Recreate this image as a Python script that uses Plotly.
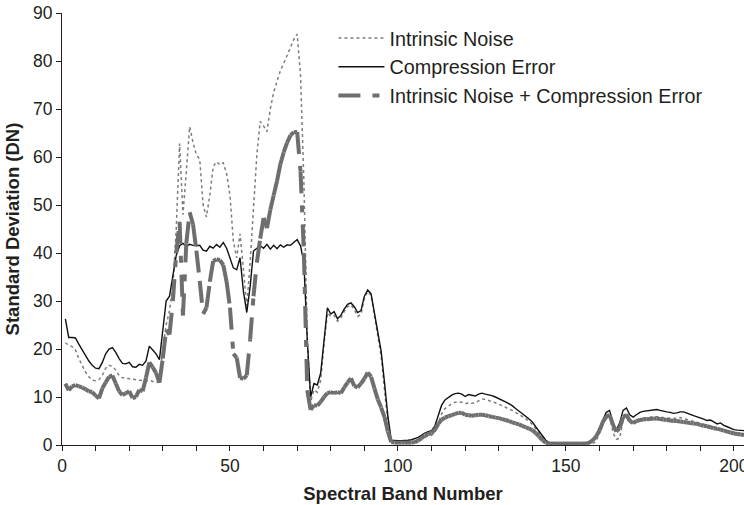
import plotly.graph_objects as go

# ---- data ----
intrinsic_noise = [
    21.3, 20.8, 20.5, 19.8, 18.0, 16.5, 15.2, 14.2, 13.5, 13.4,
    13.6, 14.5, 16.0, 16.6, 16.4, 15.6, 14.5, 14.0, 14.0, 13.8,
    13.7, 13.5, 13.5, 13.3, 13.3, 13.5, 13.3, 13.0, 13.2, 20.0,
    25.0, 28.0, 33.0, 45.0, 62.8, 48.0, 57.0, 66.3, 63.0, 60.5,
    59.5, 50.0, 47.5, 52.0, 58.0, 59.0, 58.4, 58.8, 56.5, 52.0,
    42.5, 39.0, 44.0, 36.5, 29.0, 38.0, 50.0, 60.5, 67.4, 66.5,
    65.3, 70.0, 73.5, 76.0, 78.0, 79.5, 81.2, 83.0, 84.5, 85.6,
    77.0, 55.0, 22.0, 9.0, 11.5, 11.0, 13.5, 21.0, 27.5, 26.8,
    27.0, 25.8, 26.5, 27.8, 28.8, 29.2, 28.2, 26.8, 27.2, 30.5,
    32.0, 31.2, 27.0, 23.0, 18.5, 11.5, 4.5, 0.7, 0.6, 0.6,
    0.6, 0.6, 0.6, 0.6, 0.7, 0.9, 1.2, 1.6, 1.9, 2.0,
    2.6, 4.5, 6.5, 7.6, 8.2, 8.6, 8.9, 9.0, 8.9, 8.6,
    8.8, 8.7, 8.8, 9.2, 9.6, 9.5, 9.3, 9.1, 8.8, 8.5,
    8.2, 7.9, 7.6, 7.2, 6.8, 6.4, 6.0, 5.5, 4.9, 4.3,
    3.4, 2.4, 1.5, 0.8, 0.4, 0.3, 0.3, 0.3, 0.3, 0.3,
    0.3, 0.3, 0.3, 0.3, 0.3, 0.3, 0.3, 0.3, 0.8, 2.5,
    4.8, 5.8, 6.3, 2.5, 1.2, 1.4, 5.2, 6.6, 4.8, 4.6,
    5.1, 5.4, 5.6, 5.7, 5.8, 5.9, 5.9, 5.8, 5.7, 5.7,
    5.6, 5.5, 5.6, 5.7, 5.5, 5.3, 5.1, 4.9, 4.7, 4.6,
    4.4, 4.1, 4.0, 3.7, 3.5, 3.4, 3.1, 2.9, 2.7, 2.6,
    2.5, 2.4, 2.4,
]

compression_error = [
    26.3, 22.4, 22.4, 22.3, 21.0, 19.8, 18.6, 17.5, 16.6, 16.0,
    15.9, 17.2, 19.0, 20.0, 20.3, 19.3, 18.0, 17.0, 16.9, 17.2,
    16.3, 16.2, 16.8, 16.6, 17.5, 20.6, 19.8, 19.0, 17.8, 24.5,
    30.0, 31.0, 35.0, 39.5, 41.5, 42.0, 41.4, 41.8, 41.6, 41.5,
    41.6, 40.6, 40.4, 41.4, 41.0, 41.8, 41.2, 42.2, 41.0, 39.0,
    36.9, 36.5, 39.0, 32.0, 27.6, 33.0, 40.4, 41.0, 41.5, 41.0,
    41.8, 40.8, 41.6, 40.9, 41.7, 41.2, 41.7, 41.6, 42.2, 42.8,
    41.5, 38.0, 22.0, 10.0, 12.8, 12.5, 15.0, 22.0, 28.6, 27.3,
    27.8, 26.3, 27.0, 28.3, 29.3, 29.6, 28.8, 27.6, 28.0, 31.0,
    32.3, 31.5, 27.5, 23.5, 19.5, 13.0, 6.0, 1.0, 0.9, 0.9,
    0.9, 0.9, 1.0, 1.1, 1.3, 1.6, 2.0, 2.5, 2.8, 3.0,
    4.0, 6.2, 8.3, 9.4, 10.0, 10.4, 10.7, 10.8, 10.6, 10.1,
    10.5, 10.3, 10.2, 10.6, 10.8, 10.6, 10.5, 10.3, 10.0, 9.7,
    9.3, 9.0, 8.6, 8.2, 7.6, 7.1, 6.6, 6.0, 5.4, 4.8,
    3.8, 2.8, 1.8, 1.0, 0.5, 0.4, 0.3, 0.3, 0.3, 0.3,
    0.3, 0.3, 0.3, 0.3, 0.3, 0.3, 0.5, 1.0, 2.0, 3.7,
    5.5, 6.8, 7.2, 4.5, 3.1, 4.6, 7.2, 7.7, 6.3, 5.8,
    6.3, 6.8, 7.0, 7.1, 7.2, 7.2, 7.4, 7.2, 7.0, 6.9,
    6.8, 6.6, 6.7, 6.9, 6.9, 6.7, 6.4, 6.1, 5.9, 5.6,
    5.4, 5.1, 5.2, 4.8, 4.4, 4.6, 4.1, 3.8, 3.5, 3.2,
    3.1, 3.0, 3.0,
]

noise_plus_compression = [
    12.8, 11.4, 12.2, 12.5, 12.2, 12.0, 11.6, 11.2, 11.0, 10.3,
    9.7, 11.8, 13.0, 14.2, 14.5, 12.8, 11.2, 10.4, 10.8, 11.2,
    9.8, 10.0, 11.5, 11.2, 14.0, 17.2, 16.2, 15.0, 13.0, 18.0,
    24.0, 23.0, 30.0, 40.0, 46.5, 27.0, 42.0, 48.5, 46.0, 40.5,
    34.2, 27.3, 28.6, 34.0, 38.3, 38.7, 38.5, 37.5, 34.0, 28.6,
    19.0, 18.2, 14.0, 13.8, 14.5, 22.0, 31.0, 38.0, 43.0, 47.3,
    45.2, 49.0, 52.0, 55.0, 58.5, 61.0, 63.0, 64.5, 65.2, 65.2,
    57.0, 40.0, 11.4, 7.3, 8.3, 8.2, 9.0, 10.0, 10.8, 11.0,
    10.8, 11.0, 10.8, 12.0, 13.0, 13.9, 12.3, 12.0, 12.8, 13.8,
    15.1, 14.2, 11.8, 9.5, 7.8, 5.8, 2.8, 0.6, 0.5, 0.5,
    0.5, 0.5, 0.5, 0.5, 0.6, 0.9, 1.4, 2.0, 2.3, 2.5,
    3.2, 4.4, 5.3, 5.7, 6.0, 6.2, 6.5, 6.7, 6.7, 6.3,
    6.2, 6.1, 6.2, 6.3, 6.3, 6.2, 6.0, 5.9, 5.7, 5.6,
    5.4, 5.2, 5.0, 4.7, 4.5, 4.3, 4.0, 3.7, 3.4, 3.1,
    2.5, 1.8, 1.0, 0.5, 0.3, 0.3, 0.3, 0.3, 0.3, 0.3,
    0.3, 0.3, 0.3, 0.3, 0.3, 0.3, 0.5, 1.0, 1.8, 3.0,
    4.8, 5.9, 6.3, 4.2, 2.8, 3.5, 5.8, 6.3, 5.0, 4.6,
    5.0, 5.2, 5.3, 5.4, 5.4, 5.5, 5.5, 5.4, 5.3, 5.2,
    5.1, 5.0, 5.0, 4.9, 4.8, 4.7, 4.6, 4.5, 4.4, 4.2,
    4.0, 3.9, 3.7, 3.5, 3.4, 3.2, 3.0, 2.8, 2.6, 2.4,
    2.3, 2.2, 2.1,
]

n = min(len(intrinsic_noise), len(compression_error), len(noise_plus_compression))
bands = list(range(1, n + 1))

series_names = ["Intrinsic Noise", "Compression Error",
                "Intrinsic Noise + Compression Error"]
x_tick_values = list(range(0, 201, 10))
x_tick_labels = [str(v) if v % 50 == 0 else "" for v in x_tick_values]
y_tick_values = list(range(0, 91, 10))

FONT = "Liberation Sans, Arial, sans-serif"
TXT = "#231f20"

fig = go.Figure()

fig.add_trace(go.Scatter(
    x=bands, y=intrinsic_noise[:n], mode="lines", name=series_names[0],
    legendgroup="a",
    line=dict(color="#7d7d7d", width=1.5, dash="3px,3px"),
))
fig.add_trace(go.Scatter(
    x=bands, y=compression_error[:n], mode="lines", name=series_names[1],
    legendgroup="b",
    line=dict(color="#111111", width=1.4),
))
# dash pattern restarts on each segment (as in the original chart)
for i in range(n - 1):
    fig.add_trace(go.Scatter(
        x=bands[i:i + 2], y=noise_plus_compression[i:i + 2], mode="lines",
        name=series_names[2], legendgroup="c", showlegend=(i == 0),
        line=dict(color="#6e6e6e", width=4, dash="22px,12px,7px,12px"),
        hoverinfo="skip",
    ))

fig.update_layout(
    width=744, height=505,
    margin=dict(l=62, r=0, t=13, b=60, autoexpand=False),
    paper_bgcolor="white", plot_bgcolor="white",
    font=dict(family=FONT, color=TXT, size=17),
    showlegend=True,
    legend=dict(
        x=0.398, y=0.987, xanchor="left", yanchor="top",
        bgcolor="rgba(0,0,0,0)", borderwidth=0,
        font=dict(family=FONT, size=19.8, color=TXT),
        itemwidth=46, traceorder="normal", tracegroupgap=3,
    ),
    xaxis=dict(
        range=[0, 203], tickmode="array", tickvals=x_tick_values,
        ticktext=x_tick_labels, ticks="outside", ticklen=5, tickwidth=1,
        tickcolor=TXT, showline=True, linecolor=TXT, linewidth=1,
        showgrid=False, zeroline=False, automargin=False,
        ticklabeloverflow="allow",
        tickfont=dict(family=FONT, size=17.5, color=TXT),
        title=dict(text="Spectral Band Number", standoff=12,
                   font=dict(family=FONT, size=18.5, color=TXT, weight="bold")),
    ),
    yaxis=dict(
        range=[0, 90], tickmode="array", tickvals=y_tick_values,
        ticks="outside", ticklen=5, tickwidth=1, tickcolor=TXT,
        showline=True, linecolor=TXT, linewidth=1,
        showgrid=False, zeroline=False, automargin=False,
        tickfont=dict(family=FONT, size=17.5, color=TXT),
        title=dict(text="Standard Deviation (DN)", standoff=8,
                   font=dict(family=FONT, size=18.5, color=TXT, weight="bold")),
    ),
)

fig.write_html(
    "out.html",
    config={"displayModeBar": False},
    post_script="document.body.style.margin='0';document.body.style.padding='0';"
                "document.body.style.overflow='hidden';",
)
